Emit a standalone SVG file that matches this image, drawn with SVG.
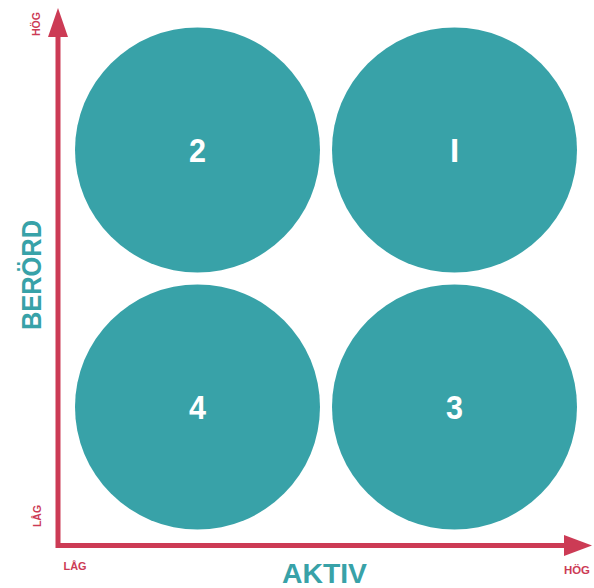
<svg xmlns="http://www.w3.org/2000/svg" width="594" height="588" viewBox="0 0 594 588">
<style>
.c{fill:#38A2A8}
.n{font-family:"Liberation Sans",Arial,sans-serif;font-weight:bold;font-size:33px;fill:#fff;text-anchor:middle}
.ax{fill:none;stroke:#CC3B55;stroke-width:5}
.ah{fill:#CC3B55}
.s{font-family:"Liberation Sans",Arial,sans-serif;font-weight:bold;font-size:11px;fill:#CC3B55;text-anchor:middle}
.t{font-family:"Liberation Sans",Arial,sans-serif;font-weight:bold;font-size:28px;fill:#38A2A8;text-anchor:middle}
</style>
<g id="connectors">
<polyline class="ax" points="58,36 58,545.5 565,545.5"/>
<polygon class="ah" points="58,8 68,37 48,37"/>
<polygon class="ah" points="592,545.5 564,535 564,556"/>
</g>
<g id="node2"><circle class="c" cx="197.5" cy="150" r="122.5"/><text class="n" x="197.5" y="162" textLength="17" lengthAdjust="spacingAndGlyphs">2</text></g>
<g id="node1"><circle class="c" cx="454.5" cy="150" r="122.5"/><text class="n" x="454.5" y="162">I</text></g>
<g id="node4"><circle class="c" cx="197.5" cy="407" r="122.5"/><text class="n" x="197.5" y="419" textLength="17" lengthAdjust="spacingAndGlyphs">4</text></g>
<g id="node3"><circle class="c" cx="454.5" cy="407" r="122.5"/><text class="n" x="454.5" y="419" textLength="17" lengthAdjust="spacingAndGlyphs">3</text></g>
<g id="labels">
<text class="s" transform="translate(40,24) rotate(-90)" textLength="24" lengthAdjust="spacingAndGlyphs">HÖG</text>
<text class="s" transform="translate(41,516) rotate(-90)" textLength="22" lengthAdjust="spacingAndGlyphs">LÅG</text>
<text class="s" x="75" y="570" textLength="23" lengthAdjust="spacingAndGlyphs">LÅG</text>
<text class="s" x="577" y="574" textLength="26" lengthAdjust="spacingAndGlyphs">HÖG</text>
<text class="t" transform="translate(41,275) rotate(-90)" textLength="110" lengthAdjust="spacingAndGlyphs">BERÖRD</text>
<text class="t" x="324.5" y="583" textLength="85" lengthAdjust="spacingAndGlyphs">AKTIV</text>
</g>
</svg>
